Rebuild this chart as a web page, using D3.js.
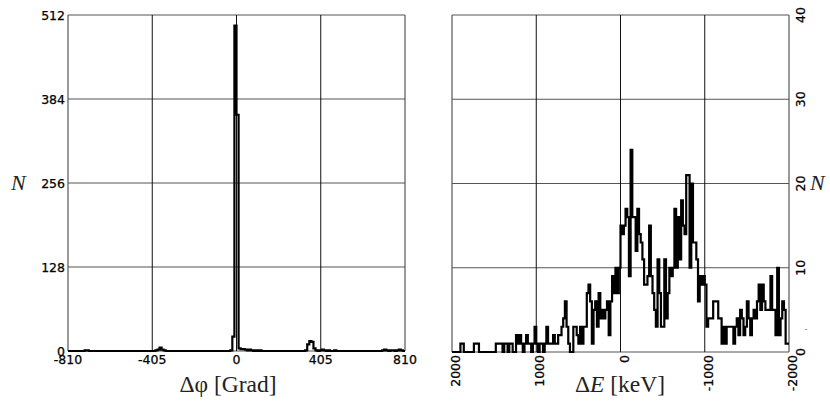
<!DOCTYPE html>
<html>
<head>
<meta charset="utf-8">
<script src="https://cdn.jsdelivr.net/npm/d3@7"></script>
<style>
  body { margin: 0; background: #fff; }
</style>
</head>
<body>
<div id="chart"></div>
<script>
// Left histogram: delta phi, 10 degree bins from -810 to 810
const phiStart = -810
const phiStep = 10
const phiCounts = [
  0,0,0,0,0,0,0,0,1,1,0,0,0,0,0,0,0,0,
  0,0,0,0,0,0,0,0,0,0,0,0,0,0,0,0,0,0,
  0,0,0,0,0,0,1,2,5,2,1,0,0,0,0,0,0,0,
  0,0,0,0,0,0,0,0,0,0,0,0,0,0,0,0,0,0,
  0,0,0,0,0,0,1,22,496,360,4,3,3,2,1,2,1,0,
  1,0,1,0,0,0,0,0,0,0,0,0,0,0,0,0,0,0,
  0,0,0,0,0,0,1,10,15,14,4,1,0,1,2,1,0,1,
  0,0,1,0,0,0,0,0,0,0,0,0,0,0,0,0,0,0,
  0,0,0,0,0,0,0,1,2,1,0,1,1,0,1,2,1,0
]
const phiTicksX = [-810, -405, 0, 405, 810]
const phiTicksY = [0, 128, 256, 384, 512]

// Right histogram: delta E, 20 keV bins from 2000 down to -2000
const eStart = 2000
const eStep = -20
const eCounts = [
  0,0,0,0,0,1,1,0,0,0,
  0,0,0,1,1,1,0,0,0,0,
  0,0,0,0,0,0,1,1,1,1,
  0,1,1,0,1,1,0,0,2,1,
  2,1,0,1,2,1,1,0,1,3,
  1,0,1,1,0,1,3,1,1,1,
  2,1,1,2,2,3,4,6,3,1,
  0,0,3,3,2,1,3,1,3,3,
  7,8,6,1,5,6,3,7,4,5,
  4,5,6,2,6,9,7,10,7,10,
  15,14,15,17,16,9,24,16,16,12,
  17,14,13,11,8,8,9,15,9,7,
  5,3,11,7,3,3,11,4,7,10,
  9,10,17,10,16,11,18,15,14,21,
  21,10,20,13,13,11,6,9,8,9,
  8,3,4,4,4,6,6,6,4,4,
  1,3,1,3,3,3,3,1,3,4,
  2,5,4,2,3,6,4,2,4,5,
  4,6,8,5,8,6,5,5,5,9,
  5,5,2,10,2,4,6,5,1,1
]
const eTicksX = [2000, 1000, 0, -1000, -2000]
const eTicksY = [0, 10, 20, 30, 40]

const width = 830
const height = 401

const svg = d3.select("#chart").append("svg")
  .attr("width", width).attr("height", height)

// tick text style
function tickStyle(sel) {
  sel.attr("font-family", "DejaVu Sans")
    .attr("font-size", 12.5)
    .attr("fill", "#000")
    .attr("stroke", "#000")
    .attr("stroke-width", 0.25)
}

// axis title style
function titleStyle(sel) {
  sel.attr("font-family", "Liberation Serif")
    .attr("font-size", 23.5)
    .attr("fill", "#222")
}

// turns bin counts into step points (left edge of each bin + final right edge)
function stepPoints(start, step, counts) {
  const pts = counts.map((c, i) => [start + i * step, c])
  pts.push([start + counts.length * step, counts[counts.length - 1]])
  return pts
}

function drawPanel(opts) {
  const x = d3.scaleLinear().domain(opts.xDomain).range([opts.left, opts.right])
  const y = d3.scaleLinear().domain(opts.yDomain).range([opts.bottom, opts.top])
  const g = svg.append("g")

  // horizontal grid (grey)
  g.append("g").selectAll("line")
    .data(opts.yTicks)
    .join("line")
      .attr("x1", opts.left).attr("x2", opts.right)
      .attr("y1", d => y(d)).attr("y2", d => y(d))
      .attr("stroke", "#555").attr("stroke-width", 1.2)

  // vertical grid (black)
  g.append("g").selectAll("line")
    .data(opts.xTicks)
    .join("line")
      .attr("x1", d => x(d)).attr("x2", d => x(d))
      .attr("y1", opts.top).attr("y2", opts.bottom)
      .attr("stroke", (d, i) => (i == 0 || i == opts.xTicks.length - 1) ? "#555" : "#111")
      .attr("stroke-width", (d, i) => (i == 0 || i == opts.xTicks.length - 1) ? 1.2 : 1)

  // histogram
  const line = d3.line()
    .x(d => x(d[0]))
    .y(d => y(d[1]))
    .curve(d3.curveStepAfter)

  g.append("path")
    .datum(stepPoints(opts.start, opts.step, opts.counts))
    .attr("fill", "none")
    .attr("stroke", "#000")
    .attr("stroke-width", opts.lineWidth)
    .attr("d", line)

  return {x, y, g}
}

// ---- left panel ----
const left = drawPanel({
  xDomain: [-810, 810], yDomain: [0, 512],
  left: 68, right: 405, top: 15, bottom: 351,
  xTicks: phiTicksX, yTicks: phiTicksY,
  start: phiStart, step: phiStep, counts: phiCounts,
  lineWidth: 2.2
})

left.g.append("g").selectAll("text")
  .data(phiTicksY)
  .join("text")
    .call(tickStyle)
    .attr("x", 65)
    .attr("y", d => left.y(d) + 5)
    .attr("text-anchor", "end")
    .text(d => d)

left.g.append("g").selectAll("text")
  .data(phiTicksX)
  .join("text")
    .call(tickStyle)
    .attr("x", d => left.x(d))
    .attr("y", 364)
    .attr("text-anchor", "middle")
    .text(d => d < 0 ? "-" + Math.abs(d) : d)

svg.append("text")
  .call(titleStyle)
  .attr("x", 228).attr("y", 392)
  .attr("text-anchor", "middle")
  .text("Δφ [Grad]")

svg.append("text")
  .call(titleStyle)
  .attr("x", 11).attr("y", 190)
  .attr("font-size", 22)
  .attr("font-style", "italic")
  .text("N")

// ---- right panel ----
const right = drawPanel({
  xDomain: [2000, -2000], yDomain: [0, 40],
  left: 452, right: 789, top: 15, bottom: 352,
  xTicks: eTicksX, yTicks: eTicksY,
  start: eStart, step: eStep, counts: eCounts,
  lineWidth: 2.2
})

// y labels on the right, rotated
right.g.append("g").selectAll("text")
  .data(eTicksY)
  .join("text")
    .call(tickStyle)
    .attr("transform", d => `translate(805,${right.y(d)}) rotate(-90)`)
    .attr("text-anchor", "middle")
    .text(d => d)

// x labels, rotated
right.g.append("g").selectAll("text")
  .data(eTicksX)
  .join("text")
    .call(tickStyle)
    .attr("transform", d => `translate(${right.x(d) + 8},355) rotate(-90)`)
    .attr("text-anchor", "end")
    .text(d => d < 0 ? "-" + Math.abs(d) : d)

const eTitle = svg.append("text")
  .call(titleStyle)
  .attr("x", 620).attr("y", 392)
  .attr("text-anchor", "middle")
eTitle.append("tspan").text("Δ")
eTitle.append("tspan").attr("font-style", "italic").text("E")
eTitle.append("tspan").text(" [keV]")

svg.append("text")
  .call(titleStyle)
  .attr("x", 810).attr("y", 190)
  .attr("font-size", 22)
  .attr("font-style", "italic")
  .text("N")

// stray dash left over in the original scan
svg.append("text")
  .attr("x", 806).attr("y", 332)
  .attr("text-anchor", "middle")
  .attr("font-family", "DejaVu Sans")
  .attr("fill", "#888")
  .attr("font-size", 9)
  .text("-")
</script>
</body>
</html>
